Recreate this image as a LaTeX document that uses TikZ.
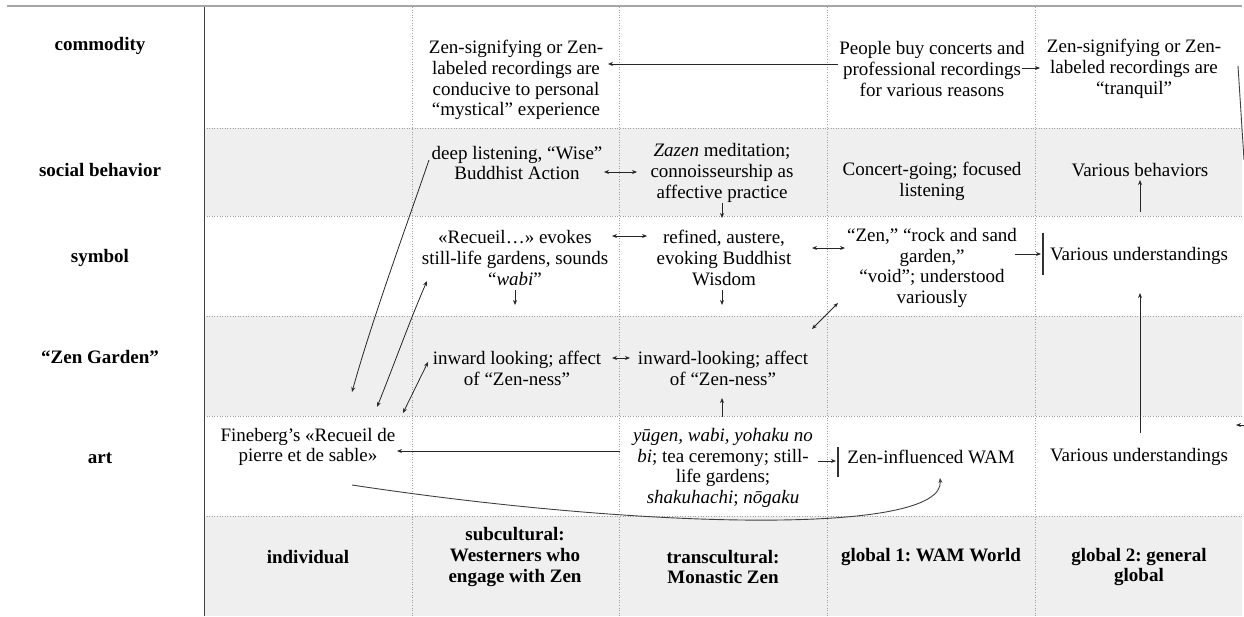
\documentclass[tikz,border=0pt]{standalone}
\usepackage{fontspec}
\setmainfont{Liberation Serif}
\usetikzlibrary{arrows.meta}
\definecolor{rowgray}{HTML}{EFEFEF}
\frenchspacing
\begin{document}
\begin{tikzpicture}[x=1pt,y=-1pt,
  txt/.style={font=\fontsize{19}{20.8}\selectfont, align=center, inner sep=0pt},
  lbl/.style={font=\fontsize{19}{20.8}\selectfont\bfseries, align=center, inner sep=0pt},
  gridline/.style={gray!75, line width=0.6pt, dash pattern=on 1pt off 1.6pt},
  con/.style={black!85, line width=0.8pt},
  arr/.style={con, -{Stealth[length=5pt,width=4pt]}},
  darr/.style={con, {Stealth[length=5pt,width=4pt]}-{Stealth[length=5pt,width=4pt]}},
  curv/.style={black!75, line width=0.9pt},
  tbar/.style={black!80, line width=1.1pt}
]
\useasboundingbox (0,0) rectangle (1244,616);
% row fills
\fill[rowgray] (204,128) rectangle (1242,216);
\fill[rowgray] (204,316) rectangle (1242,416);
\fill[rowgray] (204,516) rectangle (1242,616);
% grid
\foreach \yy in {128,216,316,416,516} \draw[gridline] (204,\yy) -- (1242,\yy);
\foreach \xx in {412,619,827,1035} \draw[gridline] (\xx,7) -- (\xx,616);
\draw[gray!70, line width=1.6pt] (7,6) -- (1242,6);
\draw[black!75, line width=1pt] (204,7) -- (204,616);

% row labels
\node[lbl] (lcom) at (100,46) {commodity};
\node[lbl] (lsoc) at (100,170) {social behavior};
\node[lbl] (lsym) at (100,258) {symbol};
\node[lbl] (lzen) at (100,357) {“Zen Garden”};
\node[lbl] (lart) at (100,458) {art};

% commodity row
\node[txt] (com2) at (516,80) {Zen-signifying or Zen-\\labeled recordings are\\conducive to personal\\“mystical” experience};
\node[txt] (com4) at (932,69) {People buy concerts and\\professional recordings\\for various reasons};
\node[txt] (com5) at (1134,69) {Zen-signifying or Zen-\\labeled recordings are\\“tranquil”};

% social behavior row
\node[txt] (soc2) at (517,163) {deep listening, “Wise”\\Buddhist Action};
\node[txt] (soc3) at (722,173) {\textit{Zazen} meditation;\\connoisseurship as\\affective practice};
\node[txt] (soc4) at (932,181) {Concert-going; focused\\listening};
\node[txt] (soc5) at (1140,170) {Various behaviors};

% symbol row
\node[txt] (sym2) at (515,258) {«Recueil…» evokes\\still-life gardens, sounds\\“\textit{wabi}”};
\node[txt] (sym3) at (724,258) {refined, austere,\\evoking Buddhist\\Wisdom};
\node[txt] (sym4) at (932,268) {“Zen,” “rock and sand\\garden,”\\“void”; understood\\variously};
\node[txt] (sym5) at (1139,256) {Various understandings};

% zen garden row
\node[txt] (zen2) at (517,368) {inward looking; affect\\of “Zen-ness”};
\node[txt] (zen3) at (723,368) {inward-looking; affect\\of “Zen-ness”};

% art row
\node[txt] (art1) at (308,447) {Fineberg’s «Recueil de\\pierre et de sable»};
\node[txt] (art3) at (723,468) {\textit{yūgen, wabi, yohaku no}\\\textit{bi}; tea ceremony; still-\\life gardens;\\\textit{shakuhachi}; \textit{nōgaku}};
\node[txt] (art4) at (931,457) {Zen-influenced WAM};
\node[txt] (art5) at (1139,457) {Various understandings};

% header row
\node[lbl] (h1) at (308,557) {individual};
\node[lbl] (h2) at (515,557) {subcultural:\\Westerners who\\engage with Zen};
\node[lbl] (h3) at (723,567) {transcultural:\\Monastic Zen};
\node[lbl] (h4) at (931,557) {global 1: WAM World};
\node[lbl] (h5) at (1139,567) {global 2: general\\global};

% connector end points
\coordinate (c1a) at (838,64);   \coordinate (c1b) at (608,64);
\coordinate (c2a) at (1022,68);  \coordinate (c2b) at (1040,68);
\coordinate (c3a) at (1238,66);  \coordinate (c3b) at (1244,160);
\coordinate (s1a) at (604,172);  \coordinate (s1b) at (637,172);
\coordinate (s2a) at (722,203);  \coordinate (s2b) at (722,218);
\coordinate (s3a) at (1140,212); \coordinate (s3b) at (1140,180);
\coordinate (y1a) at (612,236);  \coordinate (y1b) at (647,236);
\coordinate (y2a) at (515,290);  \coordinate (y2b) at (515,305);
\coordinate (y3a) at (722,290);  \coordinate (y3b) at (722,305);
\coordinate (y4a) at (812,248);  \coordinate (y4b) at (845,248);
\coordinate (y5a) at (1015,254); \coordinate (y5b) at (1041,254);
\coordinate (y6a) at (812,329);  \coordinate (y6b) at (838,303);
\coordinate (la) at (429,160);   \coordinate (lb) at (352,392);
\coordinate (ma) at (427,281);   \coordinate (mb) at (377,407);
\coordinate (na) at (428,362);   \coordinate (nb) at (403,413);
\coordinate (z1a) at (612,358);  \coordinate (z1b) at (630,358);
\coordinate (r1a) at (722,417);  \coordinate (r1b) at (722,398);
\coordinate (r2a) at (620,451);  \coordinate (r2b) at (397,451);
\coordinate (r3a) at (818,461);  \coordinate (r3b) at (836,461);
\coordinate (r4a) at (352,485);  \coordinate (r4b) at (940,478);
\coordinate (r5a) at (1140,433); \coordinate (r5b) at (1140,293);
\coordinate (r6a) at (1244,425); \coordinate (r6b) at (1236,425);

% commodity connectors
\draw[arr] (c1a) -- (c1b);
\draw[arr] (c2a) -- (c2b);
\draw[curv] (c3a) -- (c3b);
% social behavior
\draw[darr] (s1a) -- (s1b);
\draw[arr] (s2a) -- (s2b);
\draw[arr] (s3a) -- (s3b);
% symbol
\draw[darr] (y1a) -- (y1b);
\draw[arr] (y2a) -- (y2b);
\draw[arr] (y3a) -- (y3b);
\draw[darr] (y4a) -- (y4b);
\draw[arr] (y5a) -- (y5b);
\draw[tbar] (1043,233) -- (1043,275);
\draw[darr] (y6a) -- (y6b);
% long diagonals on the left
\draw[arr] (la) .. controls (405,230) and (372,320) .. (lb);
\draw[darr] (ma) .. controls (410,320) and (392,370) .. (mb);
\draw[darr] (na) -- (nb);
% zen garden
\draw[darr] (z1a) -- (z1b);
% art
\draw[arr] (r1a) -- (r1b);
\draw[arr] (r2a) -- (r2b);
\draw[arr] (r3a) -- (r3b);
\draw[tbar] (838,447) -- (838,477);
\draw[curv, -{Stealth[length=5pt,width=4pt]}] (r4a) .. controls (650,530) and (945,535) .. (r4b);
\draw[arr] (r5a) -- (r5b);
\draw[arr] (r6a) -- (r6b);
\end{tikzpicture}
\end{document}
